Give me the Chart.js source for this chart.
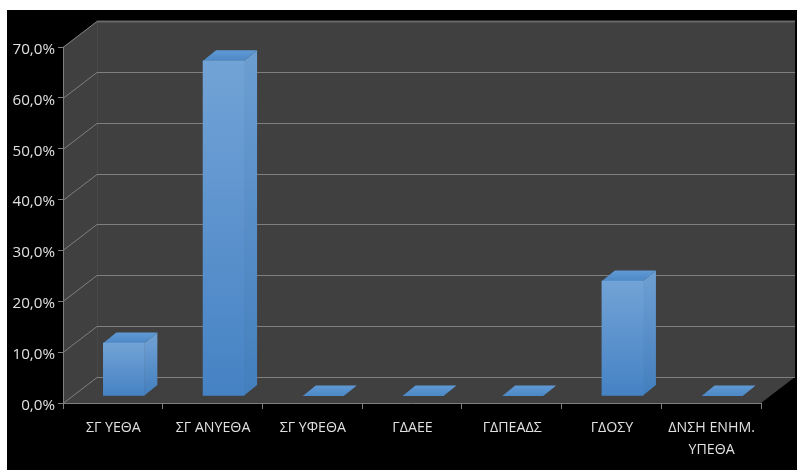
<!DOCTYPE html>
<html><head><meta charset="utf-8">
<style>html,body{margin:0;padding:0;background:#fff}canvas{display:block}</style>
<script src="https://cdn.jsdelivr.net/npm/chart.js@4"></script>
</head><body>
<div style="width:797px;height:470px"><canvas id="c" width="797" height="470"></canvas></div>
<script>
const categories = ['ΣΓ ΥΕΘΑ','ΣΓ ΑΝΥΕΘΑ','ΣΓ ΥΦΕΘΑ','ΓΔΑΕΕ','ΓΔΠΕΑΔΣ','ΓΔΟΣΥ',['ΔΝΣΗ ΕΝΗΜ.','ΥΠΕΘΑ']];
const shares = [10.4, 65.9, 0, 0, 0, 22.6, 0];
const yMax = 70, yStep = 10;
const wallDepth = {x:34, y:-26}, barDepth = {x:13, y:-10.5}, barShift = {x:11, y:-7};
const WALL='#404040', GRID='#7f7f7f', LABEL='#e0e0e0';

const scene = {
  id:'scene',
  beforeDraw(chart){
    const {ctx,chartArea:a,scales:{y}} = chart;
    ctx.save();
    ctx.fillStyle='#fff'; ctx.fillRect(0,0,chart.width,chart.height);
    ctx.fillStyle='#000'; ctx.fillRect(7,10,chart.width-7,chart.height-10);
    const dx=wallDepth.x, dy=wallDepth.y, L=a.left, R=a.right, T=a.top, B=a.bottom;
    ctx.fillStyle=WALL;
    ctx.beginPath();
    ctx.moveTo(L,B); ctx.lineTo(L,T); ctx.lineTo(L+dx,T+dy); ctx.lineTo(R+dx,T+dy);
    ctx.lineTo(R+dx,B+dy); ctx.lineTo(R,B); ctx.closePath(); ctx.fill();
    ctx.strokeStyle='#484848'; ctx.lineWidth=1;
    ctx.beginPath(); ctx.moveTo(L+dx+.5,T+dy); ctx.lineTo(L+dx+.5,B+dy); ctx.stroke();
    for(const t of y.ticks){
      const p=Math.round(y.getPixelForValue(t.value))+.5;
      ctx.strokeStyle=GRID;
      ctx.lineWidth=1;
      ctx.beginPath(); ctx.moveTo(L,p); ctx.lineTo(L+dx,p+dy);
      ctx.stroke();
      const isTop=t.value===yMax;
      ctx.strokeStyle=isTop?'#686868':GRID;
      ctx.lineWidth=isTop?2:1;
      ctx.beginPath(); ctx.moveTo(L+dx,p+dy); ctx.lineTo(R+dx,p+dy);
      ctx.stroke();
    }
    ctx.restore();
  },
  beforeDatasetsDraw(chart){
    const {ctx}=chart;
    ctx.save();
    ctx.translate(barShift.x,barShift.y);
    const meta=chart.getDatasetMeta(0), dx=barDepth.x, dy=barDepth.y;
    meta.data.forEach((b,i)=>{
      const l=b.x-b.width/2, r=b.x+b.width/2, t=b.y, base=b.base;
      if(shares[i]>0){
        const g=ctx.createLinearGradient(0,t,0,base);
        g.addColorStop(0,'#6b9dd1'); g.addColorStop(1,'#437fbe');
        ctx.fillStyle=g;
        ctx.beginPath(); ctx.moveTo(r,t); ctx.lineTo(r+dx,t+dy); ctx.lineTo(r+dx,base+dy); ctx.lineTo(r,base); ctx.closePath(); ctx.fill();
      }
      const g2=ctx.createLinearGradient(0,t+dy,0,t);
      g2.addColorStop(0,'#5f9ad5'); g2.addColorStop(1,'#4d88c6');
      ctx.fillStyle=g2;
      ctx.beginPath(); ctx.moveTo(l,t); ctx.lineTo(r,t); ctx.lineTo(r+dx,t+dy); ctx.lineTo(l+dx,t+dy); ctx.closePath(); ctx.fill();
    });
  },
  afterDatasetsDraw(chart){ chart.ctx.restore(); }
};

new Chart(document.getElementById('c'),{
  type:'bar',
  data:{labels:categories,datasets:[{
    data:shares,
    barThickness:41,
    clip:false,
    borderWidth:0,
    backgroundColor(c){
      const ch=c.chart, y=ch.scales.y;
      const top=y&&c.parsed?y.getPixelForValue(c.parsed.y):NaN, bot=y?y.getPixelForValue(0):NaN;
      if(!isFinite(top)||!isFinite(bot)) return '#4f8cca';
      const g=ch.ctx.createLinearGradient(0,top,0,bot);
      g.addColorStop(0,'#72a3d6'); g.addColorStop(1,'#4582c4');
      return g;
    }
  }]},
  plugins:[scene],
  options:{
    responsive:false,animation:false,
    layout:{padding:{top:47,right:36,bottom:0,left:0}},
    plugins:{legend:{display:false},tooltip:{enabled:false},title:{display:false}},
    scales:{
      x:{
        afterFit(s){s.height=67;},
        border:{color:GRID,width:1},
        grid:{drawOnChartArea:false,drawTicks:true,tickLength:6,color:GRID},
        ticks:{color:LABEL,font:{family:'"Open Sans"',size:14.2,lineHeight:1.55},padding:8,labelOffset:0.5,maxRotation:0,autoSkip:false}
      },
      y:{
        min:0,max:yMax,
        afterFit(s){s.width=63;},
        border:{color:GRID,width:1},
        grid:{drawOnChartArea:false,drawTicks:true,tickLength:5,color:GRID},
        ticks:{stepSize:yStep,color:LABEL,font:{family:'"Open Sans"',size:15.2},padding:3,labelOffset:2.5,
          callback:v=>v.toFixed(1).replace('.',',')+'%'}
      }
    }
  }
});
</script>
</body></html>
